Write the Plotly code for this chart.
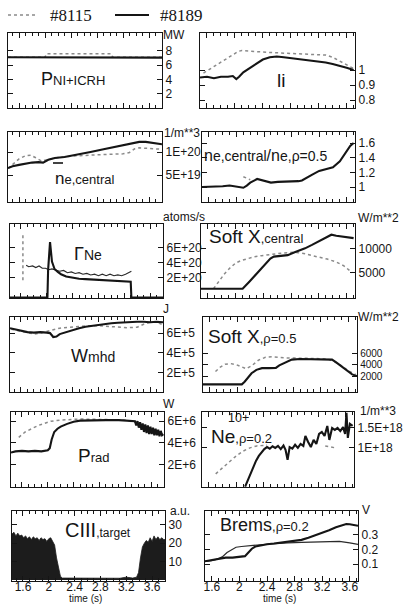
import plotly.graph_objects as go

W, H = 405, 605
FONT = "Liberation Sans, Arial, sans-serif"
SERIF = "Liberation Serif, Times New Roman, serif"
INK = "#151515"
GRAY = "#8a8a8a"

# ---------------- data ----------------
shot_a = "#8115"
shot_b = "#8189"

# P_NI+ICRH (MW)
t_pin_8115 = [1.43, 2.0, 2.02, 3.02, 3.04, 3.8]
pin_8115 = [7.1, 7.1, 7.6, 7.6, 7.1, 7.1]
t_pin_8189 = [1.43, 1.8, 2.4, 3.0, 3.5, 3.8]
pin_8189 = [7.1, 7.1, 7.15, 7.1, 7.1, 7.05]

# li
t_li_8115 = [1.55, 1.65, 1.75, 1.85, 1.95, 2.05, 2.1, 2.2, 2.4, 2.6, 2.8, 3.0, 3.2, 3.3, 3.4, 3.5, 3.6, 3.7]
li_8115 = [0.98, 1.01, 1.04, 1.07, 1.1, 1.125, 1.13, 1.125, 1.12, 1.115, 1.11, 1.105, 1.1, 1.1, 1.085, 1.06, 1.035, 1.01]
t_li_8189 = [1.5, 1.6, 1.7, 1.8, 1.9, 1.97, 2.02, 2.06, 2.12, 2.2, 2.3, 2.4, 2.5, 2.6, 2.7, 2.8, 2.9, 3.0, 3.1, 3.2, 3.3, 3.4, 3.5, 3.6, 3.7]
li_8189 = [0.95, 0.955, 0.945, 0.955, 0.955, 0.96, 0.94, 0.955, 0.985, 1.01, 1.04, 1.07, 1.085, 1.09, 1.085, 1.08, 1.075, 1.07, 1.065, 1.06, 1.05, 1.04, 1.03, 1.015, 1.0]

# n_e,central (1E19 /m^3)
t_ne_8115 = [1.43, 1.5, 1.6, 1.7, 1.78, 1.85, 1.95, 2.05, 2.2, 2.4, 2.6, 2.8, 3.0, 3.2, 3.3, 3.38, 3.45, 3.6, 3.8]
ne_8115 = [6.4, 7.3, 8.5, 9.2, 9.3, 8.8, 8.0, 8.4, 8.8, 9.1, 9.3, 9.4, 9.5, 9.6, 9.9, 10.7, 10.9, 10.8, 10.6]
t_ne_8189 = [1.43, 1.5, 1.6, 1.7, 1.8, 1.9, 1.97, 2.05, 2.15, 2.3, 2.5, 2.7, 2.9, 3.1, 3.3, 3.45, 3.55, 3.65, 3.8]
ne_8189 = [6.5, 6.9, 7.2, 7.5, 7.7, 7.8, 7.7, 8.3, 8.7, 8.9, 9.4, 10.0, 10.6, 11.2, 11.8, 12.2, 12.2, 12.0, 11.7]

# n_e,central / n_e,rho=0.5
t_rat_8115 = [2.1, 2.2]
rat_8115 = [1.14, 1.1]
t_rat_8189 = [1.5, 1.6, 1.7, 1.8, 1.9, 2.0, 2.05, 2.1, 2.15, 2.2, 2.3, 2.35, 2.4, 2.5, 2.6, 2.7, 2.8, 2.9, 2.95, 3.0, 3.1, 3.2, 3.3, 3.4, 3.5, 3.55, 3.6, 3.65, 3.7]
rat_8189 = [1.0, 1.0, 1.01, 1.01, 1.02, 1.0, 0.99, 0.99, 1.02, 1.06, 1.11, 1.1, 1.08, 1.06, 1.07, 1.07, 1.08, 1.08, 1.09, 1.12, 1.17, 1.22, 1.24, 1.27, 1.35, 1.42, 1.5, 1.56, 1.6]

# Gamma_Ne (1E20 atoms/s)
t_gne_8115_puff = [1.63, 1.63]
gne_8115_puff = [7.7, 1.5]
t_gne_8115 = [1.68, 1.72, 1.78, 1.83, 1.88, 1.93, 1.98, 2.03, 2.08, 2.14, 2.2, 2.26, 2.32, 2.38, 2.44, 2.5, 2.56, 2.62, 2.68, 2.74, 2.8, 2.86, 2.92, 2.98, 3.04, 3.1, 3.16, 3.22, 3.27, 3.31]
gne_8115 = [3.7, 3.5, 3.6, 3.4, 3.6, 3.3, 3.3, 3.1, 3.2, 3.0, 2.9, 3.0, 2.7, 2.8, 2.6, 2.7, 2.5, 2.6, 2.4, 2.5, 2.3, 2.5, 2.3, 2.5, 2.3, 2.4, 2.3, 2.5, 2.7, 2.9]
t_gne_8189 = [1.43, 2.01, 2.02, 2.05, 2.08, 2.12, 2.17, 2.22, 2.3, 2.4, 2.5, 2.6, 2.7, 2.8, 2.9, 3.0, 3.1, 3.2, 3.3, 3.31, 3.8]
gne_8189 = [-0.6, -0.6, 3.0, 6.8, 4.2, 3.2, 2.8, 2.5, 2.2, 2.0, 1.9, 1.85, 1.8, 1.75, 1.7, 1.65, 1.6, 1.55, 1.5, -0.6, -0.6]

# Soft X central (W/m^2)
t_sxc_8115 = [1.68, 1.76, 1.84, 1.92, 2.0, 2.08, 2.15, 2.25, 2.37, 2.5, 2.65, 2.85, 3.0, 3.1, 3.2, 3.32, 3.45, 3.56, 3.68]
sxc_8115 = [1700, 3300, 4800, 6000, 7000, 7500, 7800, 8200, 8500, 8800, 9000, 9200, 8900, 8500, 8200, 7800, 7200, 6400, 5000]
t_sxc_8189 = [1.5, 1.8, 2.05, 2.1, 2.2, 2.3, 2.4, 2.5, 2.55, 2.65, 2.75, 2.85, 3.0, 3.1, 3.2, 3.3, 3.38, 3.45, 3.55, 3.7]
sxc_8189 = [1700, 1700, 1700, 1700, 3200, 4700, 6300, 7900, 8300, 8500, 8600, 9200, 10000, 10700, 11400, 12100, 12800, 12600, 12400, 12100]

# W_mhd (1E5 J)
t_w_8115 = [1.45, 1.6, 1.7, 1.8, 1.9, 2.0, 2.1, 2.2, 2.35, 2.5, 2.65, 2.8, 2.95, 3.1, 3.25, 3.4, 3.5, 3.6, 3.7, 3.78]
w_8115 = [6.4, 6.2, 6.0, 5.9, 6.0, 6.15, 6.35, 6.5, 6.6, 6.7, 6.75, 6.75, 6.7, 6.6, 6.55, 6.6, 6.9, 7.1, 7.1, 6.9]
t_w_8189 = [1.43, 1.5, 1.6, 1.7, 1.8, 1.9, 2.0, 2.05, 2.1, 2.15, 2.2, 2.3, 2.4, 2.5, 2.6, 2.7, 2.8, 2.9, 3.0, 3.1, 3.2, 3.3, 3.4, 3.5, 3.6, 3.7, 3.8]
w_8189 = [6.5, 6.4, 6.3, 6.1, 6.05, 6.1, 6.05, 6.0, 5.6, 5.65, 5.9, 6.1, 6.35, 6.5, 6.65, 6.75, 6.85, 6.95, 7.0, 7.05, 7.1, 7.1, 7.15, 7.15, 7.1, 7.15, 7.1]

# Soft X rho=0.5 (W/m^2)
t_sx5_8115 = [1.68, 1.75, 1.82, 1.9, 1.98, 2.05, 2.12, 2.2, 2.3, 2.4, 2.5, 2.7, 2.9, 3.1, 3.3, 3.4, 3.5, 3.6, 3.7]
sx5_8115 = [2800, 3600, 4100, 4200, 4000, 3600, 3300, 3800, 4800, 5300, 5400, 5200, 5200, 5100, 5000, 4500, 3800, 2900, 2300]
t_sx5_8189 = [1.5, 1.7, 1.9, 2.06, 2.1, 2.15, 2.2, 2.27, 2.35, 2.45, 2.55, 2.6, 2.7, 2.78, 2.9, 3.0, 3.1, 3.2, 3.3, 3.36, 3.42, 3.5, 3.58, 3.65, 3.72]
sx5_8189 = [550, 550, 550, 550, 1000, 1800, 2500, 3100, 3400, 3400, 3450, 3900, 4500, 4900, 5000, 5000, 4950, 5000, 4950, 4900, 4400, 3700, 2900, 2300, 2000]

# P_rad (1E6 W)
t_prad_8115 = [1.55, 1.65, 1.75, 1.85, 1.95, 2.05, 2.2, 2.5, 2.9, 3.2, 3.35, 3.45, 3.55, 3.65, 3.75]
prad_8115 = [4.5, 5.0, 5.3, 5.6, 5.8, 6.0, 6.1, 6.2, 6.15, 6.1, 5.9, 5.6, 5.3, 5.1, 5.0]
t_prad_8189 = [1.43, 1.5, 1.6, 1.7, 1.8, 1.9, 2.0, 2.03, 2.06, 2.1, 2.15, 2.2, 2.3, 2.4, 2.5, 2.7, 2.9, 3.1, 3.25,
               3.35, 3.37, 3.39, 3.41, 3.43, 3.45, 3.47, 3.49, 3.51, 3.53, 3.55, 3.57, 3.59, 3.61, 3.63, 3.65, 3.67, 3.69, 3.71, 3.73, 3.75, 3.77, 3.79]
prad_8189 = [3.1, 3.2, 3.25, 3.2, 3.25, 3.2, 3.3, 3.5, 4.3, 5.0, 5.3, 5.5, 5.75, 5.95, 6.05, 6.1, 6.1, 6.1, 6.05,
             6.0, 5.6, 6.0, 5.4, 5.9, 5.2, 5.8, 5.0, 5.7, 4.9, 5.6, 4.8, 5.5, 4.8, 5.4, 4.7, 5.3, 4.7, 5.2, 4.6, 5.1, 4.7, 4.8]

# Ne10+ rho=0.2 (1E18 /m^3)
t_ne10_8115 = [1.7, 1.8, 1.9, 2.0, 2.1, 2.2, 2.3, 2.45, None, 3.3, 3.45]
ne10_8115 = [0.35, 0.5, 0.65, 0.8, 0.92, 1.0, 1.05, 1.07, None, 1.05, 1.0]
t_ne10_8189 = [2.13, 2.17, 2.21, 2.25, 2.29, 2.33, 2.37, 2.41, 2.45, 2.49, 2.53, 2.57, 2.61, 2.65, 2.69, 2.72, 2.75, 2.78, 2.82, 2.86, 2.9, 2.94, 2.98, 3.01, 3.05, 3.09, 3.13, 3.17, 3.21, 3.25, 3.29, 3.33, 3.36, 3.4, 3.44, 3.48, 3.52, 3.56, 3.59, 3.61, 3.63, 3.66, 3.7]
ne10_8189 = [0.03, 0.2, 0.38, 0.55, 0.68, 0.8, 0.9, 0.97, 1.02, 0.98, 1.04, 1.0, 1.05, 0.97, 1.06, 0.95, 0.7, 1.02, 0.98, 1.08, 1.0, 1.1, 1.05, 1.3, 1.15, 1.02, 1.2, 1.1, 1.35, 1.4, 1.3, 1.55, 1.2, 1.5, 1.45, 1.5, 1.42, 1.52, 1.35, 1.88, 1.25, 1.6, 1.55]

# CIII target (a.u.)
t_c3_8189 = [1.43, 1.46, 1.49, 1.52, 1.55, 1.58, 1.61, 1.64, 1.67, 1.7, 1.73, 1.76, 1.79, 1.82, 1.85, 1.88, 1.91, 1.94, 1.97, 2.0, 2.03, 2.06, 2.09, 2.12, 2.15, 2.18, 2.21, 2.3, 2.5, 2.7, 2.9, 3.0, 3.1, 3.2, 3.3, 3.36, 3.39, 3.42, 3.45, 3.48, 3.51, 3.54, 3.57, 3.6, 3.63, 3.66, 3.69, 3.72, 3.75, 3.78, 3.8]
c3_8189 = [25, 26, 24, 25.5, 24, 24.5, 23, 24, 22.5, 23.5, 22, 23.5, 22.5, 23, 21.5, 23, 22, 22.5, 21, 22.5, 23, 21, 19, 12, 6, 2, 1, 1, 0.8, 1, 0.8, 1.2, 0.9, 1.5, 1, 1.5, 4, 12, 18, 20, 21.5, 20.5, 23, 21, 24, 22, 23.5, 22, 23, 22, 22]

# Brems rho=0.2 (V)
t_br_8115 = [1.5, 1.6, 1.68, 1.75, 1.82, 1.89, 1.95, 2.03, 2.1, 2.2, 2.3, 2.5, 2.7, 2.9, 3.1, 3.3, 3.45, 3.6, 3.72]
br_8115 = [0.12, 0.125, 0.135, 0.15, 0.18, 0.2, 0.215, 0.22, 0.225, 0.228, 0.232, 0.24, 0.245, 0.248, 0.25, 0.253, 0.255, 0.245, 0.235]
t_br_8189 = [1.5, 1.6, 1.7, 1.8, 1.9, 2.0, 2.08, 2.13, 2.18, 2.23, 2.3, 2.4, 2.5, 2.6, 2.7, 2.8, 2.9, 3.0, 3.1, 3.2, 3.3, 3.4, 3.5, 3.55, 3.6, 3.65, 3.72]
br_8189 = [0.12, 0.13, 0.14, 0.145, 0.145, 0.148, 0.155, 0.18, 0.205, 0.22, 0.228, 0.235, 0.24, 0.245, 0.25, 0.255, 0.265, 0.28, 0.295, 0.31, 0.33, 0.35, 0.365, 0.372, 0.37, 0.365, 0.36]

# axis ticks
x_ticks = [1.6, 2.0, 2.4, 2.8, 3.2, 3.6]
x_labels = ["1.6", "2", "2.4", "2.8", "3.2", "3.6"]
yt_pin, yl_pin = [2, 4, 6, 8], ["2", "4", "6", "8"]
yt_li, yl_li = [0.8, 0.9, 1.0], ["0.8", "0.9", "1"]
yt_ne, yl_ne = [5e19, 1e20], ["5E+19", "1E+20"]
yt_rat, yl_rat = [1.0, 1.2, 1.4, 1.6], ["1", "1.2", "1.4", "1.6"]
yt_gne, yl_gne = [2e20, 4e20, 6e20], ["2E+20", "4E+20", "6E+20"]
yt_sxc, yl_sxc = [5000, 10000], ["5000", "10000"]
yt_w, yl_w = [2e5, 4e5, 6e5], ["2E+5", "4E+5", "6E+5"]
yt_sx5, yl_sx5 = [2000, 4000, 6000], ["2000", "4000", "6000"]
yt_prad, yl_prad = [2e6, 4e6, 6e6], ["2E+6", "4E+6", "6E+6"]
yt_ne10, yl_ne10 = [1e18, 1.5e18], ["1E+18", "1.5E+18"]
yt_c3, yl_c3 = [10, 20, 30], ["10", "20", "30"]
yt_br, yl_br = [0.1, 0.2, 0.3], ["0.1", "0.2", "0.3"]

# ---------------- layout geometry (pixels) ----------------
ROW_TB = [(33, 108), (132, 202), (224, 298), (317, 392), (412, 487), (511, 581)]
LEFT_X = [(8, 162), (8, 162), (10, 163), (10, 163), (11, 164), (12, 165)]
RIGHT_X = [(200, 355), (202, 355), (201, 355), (203, 357), (202, 354), (205, 358)]
XR_LEFT = [1.43, 3.8]
XR_RIGHT = [1.5, 3.72]

STY = {
    "solid": dict(color=INK, width=2.1),
    "dot": dict(color=GRAY, width=1.5, dash="dot"),
    "thin": dict(color="#2a2a2a", width=1.2),
}


def scaled(v, s):
    return [None if a is None else a * s for a in v]


panels = [
    dict(row=0, col=0, yr=[0, 10.5], yt=yt_pin, yl=yl_pin,
         series=[(shot_a, t_pin_8115, pin_8115, 1, "dot"), (shot_b, t_pin_8189, pin_8189, 1, "solid")]),
    dict(row=0, col=1, yr=[0.747, 1.247], yt=yt_li, yl=yl_li,
         series=[(shot_a, t_li_8115, li_8115, 1, "dot"), (shot_b, t_li_8189, li_8189, 1, "solid")]),
    dict(row=1, col=0, yr=[-0.87e19, 14.35e19], yt=yt_ne, yl=yl_ne,
         series=[(shot_a, t_ne_8115, ne_8115, 1e19, "dot"), (shot_b, t_ne_8189, ne_8189, 1e19, "solid")]),
    dict(row=1, col=1, yr=[0.796, 1.75], yt=yt_rat, yl=yl_rat,
         series=[(shot_a, t_rat_8115, rat_8115, 1, "dot"), (shot_b, t_rat_8189, rat_8189, 1, "solid")]),
    dict(row=2, col=0, yr=[-0.67e20, 9.2e20], yt=yt_gne, yl=yl_gne,
         series=[(shot_a, t_gne_8115_puff, gne_8115_puff, 1e20, "dot"), (shot_a, t_gne_8115, gne_8115, 1e20, "thin"),
                 (shot_b, t_gne_8189, gne_8189, 1e20, "solid")]),
    dict(row=2, col=1, yr=[-200, 15000], yt=yt_sxc, yl=yl_sxc,
         series=[(shot_a, t_sxc_8115, sxc_8115, 1, "dot"), (shot_b, t_sxc_8189, sxc_8189, 1, "solid")]),
    dict(row=3, col=0, yr=[0, 7.64e5], yt=yt_w, yl=yl_w,
         series=[(shot_a, t_w_8115, w_8115, 1e5, "dot"), (shot_b, t_w_8189, w_8189, 1e5, "solid")]),
    dict(row=3, col=1, yr=[-800, 12400], yt=yt_sx5, yl=yl_sx5, tfs=10,
         series=[(shot_a, t_sx5_8115, sx5_8115, 1, "dot"), (shot_b, t_sx5_8189, sx5_8189, 1, "solid")]),
    dict(row=4, col=0, yr=[-0.1e6, 6.85e6], yt=yt_prad, yl=yl_prad,
         series=[(shot_a, t_prad_8115, prad_8115, 1e6, "dot"), (shot_b, t_prad_8189, prad_8189, 1e6, "solid")]),
    dict(row=4, col=1, yr=[0.02e18, 1.9e18], yt=yt_ne10, yl=yl_ne10,
         series=[(shot_a, t_ne10_8115, ne10_8115, 1e18, "dot"), (shot_b, t_ne10_8189, ne10_8189, 1e18, "solid")]),
    dict(row=5, col=0, yr=[-0.6, 37.6], yt=yt_c3, yl=yl_c3, fill=True,
         series=[(shot_b, t_c3_8189, c3_8189, 1, "solid")]),
    dict(row=5, col=1, yr=[-0.013, 0.46], yt=yt_br, yl=yl_br,
         series=[(shot_a, t_br_8115, br_8115, 1, "thin"), (shot_b, t_br_8189, br_8189, 1, "solid")]),
]

fig = go.Figure()
layout = {}

for i, p in enumerate(panels, start=1):
    r, c = p["row"], p["col"]
    top, bot = ROW_TB[r]
    x0, x1 = (LEFT_X if c == 0 else RIGHT_X)[r]
    xr = XR_LEFT if c == 0 else XR_RIGHT
    xa, ya = f"x{i}", f"y{i}"
    for name, t, v, s, sty in p["series"]:
        tr = dict(x=t, y=scaled(v, s), mode="lines", name=name, line=dict(STY[sty]),
                  xaxis=xa, yaxis=ya, showlegend=False, legendgroup=name,
                  hoverinfo="skip", connectgaps=False)
        if p.get("fill"):
            tr["fill"] = "tozeroy"
            tr["fillcolor"] = "#1c1c1c"
            tr["line"] = dict(color="#1c1c1c", width=0.8)
        fig.add_trace(go.Scatter(**tr))
    last_row = (r == 5)
    layout[f"xaxis{i}"] = dict(
        domain=[x0 / W, x1 / W], range=xr, anchor=ya,
        showline=True, linecolor=INK, linewidth=1.4, mirror="allticks",
        ticks="inside", ticklen=5, tickwidth=1, tickcolor=INK,
        tickvals=x_ticks, ticktext=x_labels, showticklabels=last_row,
        ticklabelstandoff=-6,
        minor=dict(dtick=0.1, tick0=1.6, ticks="inside", ticklen=3, tickwidth=1, tickcolor=INK),
        tickfont=dict(family=FONT, size=12, color=INK),
        showgrid=False, zeroline=False, fixedrange=True,
    )
    layout[f"yaxis{i}"] = dict(
        domain=[1 - bot / H, 1 - top / H], range=p["yr"], anchor=xa, side="right",
        showline=True, linecolor=INK, linewidth=1.4, mirror="allticks",
        ticks="inside", ticklen=5, tickwidth=1, tickcolor=INK,
        tickvals=p["yt"], ticktext=p["yl"],
        tickfont=dict(family=FONT, size=p.get("tfs", 12), color=INK),
        showgrid=False, zeroline=False, fixedrange=True,
    )


def A(text, x, y, size=12, xanchor="left", yanchor="middle", family=FONT):
    return dict(text=text, x=x / W, y=1 - y / H, xref="paper", yref="paper",
                xanchor=xanchor, yanchor=yanchor, showarrow=False, borderpad=0,
                font=dict(size=size, family=family, color=INK))


def sm(t, s):
    return f"<span style='font-size:{s}px'>{t}</span>"


annotations = [
    # legend key text
    A(shot_a, 49, 15, size=17, family=SERIF),
    A(shot_b, 159, 15, size=17, family=SERIF),
    # units
    A("MW", 162, 35), A("1/m**3", 163, 133), A("atoms/s", 162, 217), A("W/m**2", 357, 218),
    A("J", 162, 309), A("W/m**2", 357, 317), A("W", 162, 404), A("1/m**3", 359, 411),
    A("a.u.", 169, 511), A("V", 361, 510),
    # panel labels
    A("P" + sm("NI+ICRH", 13), 40, 79, size=18),
    A("li", 281, 81, size=19, xanchor="center"),
    A("n" + sm("e,central", 13), 54, 178, size=17),
    A("n" + sm("e,central", 14) + "/n" + sm("e,ρ=0.5", 14), 203, 155, size=16),
    A("Γ" + sm("Ne", 14), 73, 254, size=18),
    A("Soft X" + sm(",central", 13), 208, 237, size=19),
    A("W" + sm("mhd", 14), 70, 356, size=18),
    A("Soft X" + sm(",ρ=0.5", 13), 207, 336, size=19),
    A("P" + sm("rad", 13), 77, 455, size=19),
    A("Ne" + sm(",ρ=0.2", 13), 210, 436, size=19),
    A("10+", 227, 418, size=12.5),
    A("CIII" + sm(",target", 12), 64, 530, size=20),
    A("Brems" + sm(",ρ=0.2", 13), 219, 525, size=18),
    # time titles
    A("time (s)", 85, 605, size=10, xanchor="center", yanchor="bottom"),
    A("time (s)", 279, 605, size=10, xanchor="center", yanchor="bottom"),
]

shapes = [
    # legend key lines
    dict(type="line", xref="paper", yref="paper", x0=8 / W, x1=38 / W, y0=1 - 15 / H, y1=1 - 15 / H,
         line=dict(color=GRAY, width=1.5, dash="dot")),
    dict(type="line", xref="paper", yref="paper", x0=115 / W, x1=149 / W, y0=1 - 15 / H, y1=1 - 15 / H,
         line=dict(color=INK, width=1.8)),
    # overbar of the line-averaged density symbol
    dict(type="line", xref="paper", yref="paper", x0=53 / W, x1=63 / W,
         y0=1 - 163 / H, y1=1 - 163 / H, line=dict(color=INK, width=1.6)),
]

fig.update_layout(
    width=W, height=H, margin=dict(l=0, r=0, t=0, b=0),
    paper_bgcolor="white", plot_bgcolor="white",
    font=dict(family=FONT, color=INK),
    showlegend=False,
    annotations=annotations, shapes=shapes,
    **layout,
)

fig.write_html("out.html")
